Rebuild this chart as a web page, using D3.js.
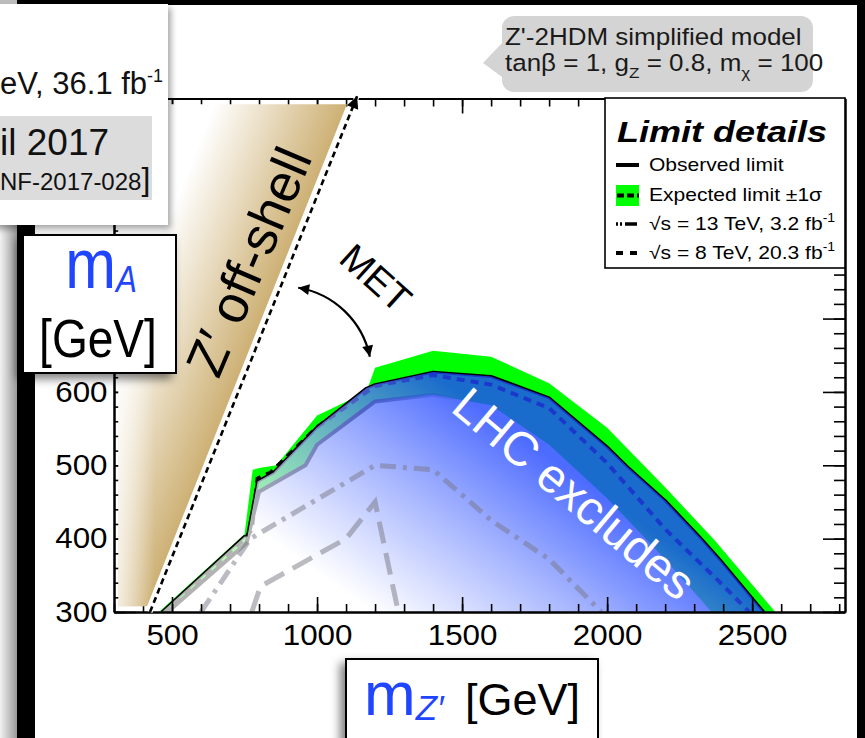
<!DOCTYPE html>
<html>
<head>
<meta charset="utf-8">
<title>Z'-2HDM limits</title>
<script src="https://cdn.jsdelivr.net/npm/d3@7/dist/d3.min.js"></script>
<style>
  html, body { margin: 0; padding: 0; background: #fff; }
  svg { display: block; font-family: "Liberation Sans", Arial, Helvetica, sans-serif; }
</style>
</head>
<body>
<svg id="chart" width="865" height="738"></svg>
<script>
// ---- axis ticks ----
const xMajorTicks = [500, 1000, 1500, 2000, 2500];
const yMajorTicks = [300, 400, 500, 600, 700, 800, 900, 1000];
const yLabelledTicks = [300, 400, 500, 600];   // the rest sit under the title boxes
const xMinorTicks = d3.range(300, 2801, 100);
const yMinorTicks = d3.range(300, 1001, 20);

// ---- observed limit contour (m_Z', m_A) ----
const obsMZ = [465, 750, 760, 795, 850, 1000, 1170, 1200, 1400, 1600, 1800, 2000, 2070, 2200, 2320, 2390, 2540];
const obsMA = [300, 403, 403, 478, 490, 552, 605, 610, 627, 621, 592, 525, 498, 452, 402, 371, 300];

// ---- expected limit ----
const expMZ = [470, 752, 775, 795, 840, 1000, 1200, 1400, 1600, 1800, 2000, 2200, 2390, 2490];
const expMA = [300, 400, 412, 482, 490, 552, 608, 623, 610, 578, 503, 413, 340, 300];

// ---- expected +1 sigma edge ----
const up1MZ = [455, 750, 778, 810, 860, 1000, 1170, 1200, 1400, 1600, 1800, 2000, 2200, 2370, 2580];
const up1MA = [300, 406, 494, 497, 500, 568, 600, 633, 656, 648, 612, 551, 470, 398, 300];

// ---- expected -1 sigma edge ----
const dn1MZ = [485, 757, 800, 960, 1000, 1200, 1400, 1600, 1800, 2000, 2200, 2360];
const dn1MA = [300, 394, 464, 500, 528, 587, 596, 582, 528, 455, 372, 300];

// ---- earlier results ----
const run13MZ = [600, 770, 1200, 1400, 1600, 1800, 1980];   // 13 TeV, 3.2 fb-1
const run13MA = [300, 400, 500, 494, 425, 372, 300];
const run8MZ = [775, 805, 1100, 1200, 1280];                // 8 TeV, 20.3 fb-1
const run8MA = [300, 335, 400, 450, 300];

// ---- annotations (data coordinates) ----
const offShellMZ = [315, 414, 1103, 315];   // Z' off-shell wedge
const offShellMA = [308, 308, 992, 992];
const kinMZ = [424, 1138];                  // kinematic boundary
const kinMA = [300, 1003];
const metArcMZ = [935, 1182];
const metArcMA = [742, 648];

const W = 865, H = 738;
const BLUE = "#1f45ff";
const GREEN = "#00ff00";

const x = d3.scaleLinear().domain([300, 2820]).range([114, 845]);
const y = d3.scaleLinear().domain([300, 1000]).range([612, 98.5]);

const svg = d3.select("#chart");
const defs = svg.append("defs");

const pts = (mz, ma) => mz.map((v, i) => [v, ma[i]]);
const line = d3.line().x(d => x(d[0])).y(d => y(d[1]));
const area = d3.area().x(d => x(d[0])).y0(y(300)).y1(d => y(d[1]));

// ---------- gradients & filters ----------
function linGrad(id, p0, p1, stops) {
  const g = defs.append("linearGradient").attr("id", id)
    .attr("gradientUnits", "userSpaceOnUse")
    .attr("x1", p0[0]).attr("y1", p0[1]).attr("x2", p1[0]).attr("y2", p1[1]);
  stops.forEach(s => g.append("stop").attr("offset", s[0])
    .attr("stop-color", s[1]).attr("stop-opacity", s[2]));
}

// exclusion overlay: pale at low masses, deep blue towards the contour
linGrad("exclGrad", [x(1120), y(320)], [x(1580), y(575)],
  [[0, "#ffffff", 0.7], [1, "rgb(32,70,255)", 0.8]]);

// -1 sigma edge line, visible only at low m_Z'
linGrad("dnFade", [x(1150), 0], [x(1500), 0],
  [[0, "#000", 1], [1, "#000", 0]]);

// wedge colour across its width
const e1 = [x(offShellMZ[1]), y(offShellMA[1])], e2 = [x(offShellMZ[2]), y(offShellMA[2])];
const eLen = Math.hypot(e2[0] - e1[0], e2[1] - e1[1]);
const nrm = [-(e2[1] - e1[1]) / eLen, (e2[0] - e1[0]) / eLen];
const eMid = [(e1[0] + e2[0]) / 2, (e1[1] + e2[1]) / 2];
linGrad("tanGrad", [eMid[0] - 140 * nrm[0], eMid[1] - 140 * nrm[1]], eMid,
  [[0, "#ffffff", 1], [0.12, "#ffffff", 1], [1, "#cdb074", 1]]);
linGrad("tanFade", [x(300), 0], [x(440), 0],
  [[0, "#ffffff", 0.8], [1, "#ffffff", 0]]);

linGrad("sideShade", [0, 0], [17, 0],
  [[0, "#f2f2f2", 1], [1, "#9a9a9a", 1]]);

function shadow(id, dx, dy, sd, op) {
  const f = defs.append("filter").attr("id", id)
    .attr("x", "-30%").attr("y", "-30%").attr("width", "160%").attr("height", "160%");
  f.append("feDropShadow").attr("dx", dx).attr("dy", dy)
    .attr("stdDeviation", sd).attr("flood-color", "#000").attr("flood-opacity", op);
}
shadow("shTL", 3, 4, 3, 0.35);
shadow("shBox", -5, 5, 5, 0.5);

function arrowMarker(id, w, h) {
  defs.append("marker").attr("id", id)
    .attr("viewBox", "0 0 10 10").attr("refX", 10).attr("refY", 5)
    .attr("markerUnits", "userSpaceOnUse")
    .attr("markerWidth", w).attr("markerHeight", h)
    .attr("orient", "auto-start-reverse")
    .append("path").attr("d", "M0,0L10,5L0,10Z").attr("fill", "#000");
}
arrowMarker("kinHead", 14, 12);
arrowMarker("metHead", 13, 11);

defs.append("clipPath").attr("id", "plotClip")
  .append("rect").attr("x", x(300)).attr("y", y(1000))
  .attr("width", x(2820) - x(300)).attr("height", y(300) - y(1000));

// ---------- background ----------
svg.append("rect").attr("width", W).attr("height", H).attr("fill", "#fff");

// ---------- limit contours ----------
const plot = svg.append("g").attr("clip-path", "url(#plotClip)");

const bandPts = pts(up1MZ, up1MA).concat(pts(dn1MZ, dn1MA).reverse());
plot.append("path").attr("d", line(bandPts) + "Z").attr("fill", GREEN);

plot.append("path").attr("d", line(pts(dn1MZ, dn1MA)))
  .attr("fill", "none").attr("stroke", "url(#dnFade)").attr("stroke-width", 4)
  .attr("stroke-linejoin", "round");

plot.append("path").attr("d", line(pts(obsMZ, obsMA)))
  .attr("fill", "none").attr("stroke", "#000").attr("stroke-width", 3)
  .attr("stroke-linejoin", "round");

plot.append("path").attr("d", line(pts(expMZ, expMA)))
  .attr("fill", "none").attr("stroke", "#000").attr("stroke-width", 4)
  .attr("stroke-dasharray", "8,6");

plot.append("path").attr("d", area(pts(obsMZ, obsMA)))
  .attr("fill", "url(#exclGrad)");

plot.append("path").attr("d", line(pts(run13MZ, run13MA)))
  .attr("fill", "none").attr("stroke", "rgba(120,120,135,0.5)").attr("stroke-width", 5)
  .attr("stroke-dasharray", "16,7,4,7");

plot.append("path").attr("d", line(pts(run8MZ, run8MA)))
  .attr("fill", "none").attr("stroke", "rgba(120,120,130,0.5)").attr("stroke-width", 5)
  .attr("stroke-dasharray", "22,10");

// ---------- axes ----------
const axes = svg.append("g");
function drawAxis(gen, tx, ty, vals, size) {
  const a = gen.tickValues(vals).tickSize(size).tickSizeOuter(0).tickFormat("");
  const g = axes.append("g").attr("transform", `translate(${tx},${ty})`).call(a);
  g.selectAll(".tick line").attr("stroke", "#000").attr("stroke-width", 1.6);
  g.select(".domain").attr("stroke", "#000").attr("stroke-width", 2);
  return g;
}
drawAxis(d3.axisBottom(x), 0, y(300), xMajorTicks, -15);
drawAxis(d3.axisBottom(x), 0, y(300), xMinorTicks, -8);
drawAxis(d3.axisTop(x), 0, y(1000), xMajorTicks, -15);
drawAxis(d3.axisTop(x), 0, y(1000), xMinorTicks, -8);
drawAxis(d3.axisLeft(y), x(300), 0, yMajorTicks, -22);
drawAxis(d3.axisLeft(y), x(300), 0, yMinorTicks, -11);
drawAxis(d3.axisRight(y), x(2820), 0, yMajorTicks, -22);
drawAxis(d3.axisRight(y), x(2820), 0, yMinorTicks, -11);

// tick labels
function labelAxis(gen, tx, ty, vals, pad) {
  const a = gen.tickValues(vals).tickSize(0).tickSizeOuter(0).tickPadding(pad).tickFormat(d3.format("d"));
  const g = axes.append("g").attr("transform", `translate(${tx},${ty})`).call(a);
  g.select(".domain").remove();
  g.selectAll(".tick text").attr("font-size", 29).attr("fill", "#000")
    .attr("font-family", "Liberation Sans, Arial, sans-serif")
    .attr("transform", "scale(1.08,1)");
}
labelAxis(d3.axisBottom(x), 0, y(300), xMajorTicks, 12);
labelAxis(d3.axisLeft(y), x(300), 0, yLabelledTicks, 6);

// ---------- Z' off-shell wedge ----------
const wedge = line(pts(offShellMZ, offShellMA)) + "Z";
svg.append("path").attr("d", wedge).attr("fill", "url(#tanGrad)");
svg.append("path").attr("d", wedge).attr("fill", "url(#tanFade)");

// kinematic boundary with arrow
const kinPath = line(pts(kinMZ, kinMA));
svg.append("path").attr("d", kinPath).attr("stroke", "#fff").attr("stroke-width", 5).attr("fill", "none");
svg.append("path").attr("d", kinPath).attr("stroke", "#000").attr("stroke-width", 2.6)
  .attr("stroke-dasharray", "6,4").attr("fill", "none").attr("marker-end", "url(#kinHead)");

// ---------- annotation texts ----------
svg.append("text")
  .attr("transform", `translate(${x(823)},${y(768)}) rotate(-67)`)
  .attr("text-anchor", "middle").attr("font-size", 53).attr("fill", "#000")
  .text("Z\u2032 off-shell");

svg.append("text")
  .attr("transform", `translate(${x(1850)},${y(444)}) rotate(40)`)
  .attr("text-anchor", "middle").attr("font-size", 48).attr("fill", "#fff")
  .text("LHC excludes");

svg.append("text")
  .attr("transform", `translate(${x(1172)},${y(742)}) rotate(42)`)
  .attr("text-anchor", "middle").attr("font-size", 38).attr("fill", "#000")
  .text("MET");

const mA = [x(metArcMZ[0]), y(metArcMA[0])], mB = [x(metArcMZ[1]), y(metArcMA[1])];
svg.append("path").attr("d", `M${mA[0]},${mA[1]}A88,88 0 0 1 ${mB[0]},${mB[1]}`)
  .attr("fill", "none").attr("stroke", "#000").attr("stroke-width", 2.2)
  .attr("marker-start", "url(#metHead)").attr("marker-end", "url(#metHead)");

// ---------- legend ----------
const leg = svg.append("g");
leg.append("rect").attr("x", 605).attr("y", 98).attr("width", 240).attr("height", 170)
  .attr("fill", "#fff").attr("stroke", "#000").attr("stroke-width", 1.6);
leg.append("text").attr("transform", "translate(617,142) scale(1.2,1)")
  .attr("font-size", 30).attr("font-weight", "bold").attr("font-style", "italic")
  .text("Limit details");

const legRows = [
  { label: "Observed limit", sup: "" },
  { label: "Expected limit \u00b11\u03c3", sup: "" },
  { label: "\u221as = 13 TeV, 3.2 fb", sup: "-1" },
  { label: "\u221as = 8 TeV, 20.3 fb", sup: "-1" }
];
const rowY = [171, 201, 230, 259];
legRows.forEach((r, i) => {
  const t = leg.append("text").attr("transform", `translate(649,${rowY[i]}) scale(1.17,1)`)
    .attr("font-size", 18).attr("fill", "#000");
  t.append("tspan").text(r.label);
  if (r.sup) t.append("tspan").attr("font-size", 12).attr("dy", -8).text(r.sup);
});
const sx0 = 616, sx1 = 639;
leg.append("line").attr("x1", sx0).attr("x2", sx1).attr("y1", 165).attr("y2", 165)
  .attr("stroke", "#000").attr("stroke-width", 4);
leg.append("rect").attr("x", sx0).attr("y", 185).attr("width", sx1 - sx0).attr("height", 21).attr("fill", GREEN);
leg.append("line").attr("x1", sx0 + 1).attr("x2", sx1).attr("y1", 195.5).attr("y2", 195.5)
  .attr("stroke", "#000").attr("stroke-width", 4).attr("stroke-dasharray", "7,3");
leg.append("line").attr("x1", sx0).attr("x2", sx1).attr("y1", 224).attr("y2", 224)
  .attr("stroke", "#000").attr("stroke-width", 3.5).attr("stroke-dasharray", "2,2,2,3,12");
leg.append("line").attr("x1", sx0).attr("x2", sx1).attr("y1", 253).attr("y2", 253)
  .attr("stroke", "#000").attr("stroke-width", 4).attr("stroke-dasharray", "7,7");

// ---------- model callout ----------
const co = svg.append("g");
co.append("path")
  .attr("d", "M514,16H801A12,12 0 0 1 813,28V80A12,12 0 0 1 801,92H514A12,12 0 0 1 502,80V77L483,63L502,43V28A12,12 0 0 1 514,16Z")
  .attr("fill", "#d4d4d4");
const coText = co.append("g").attr("transform", "translate(505,0) scale(1.106,1)")
  .attr("font-size", 23.5).attr("fill", "#1a1a1a");
coText.append("text").attr("x", 0).attr("y", 45).text("Z'-2HDM simplified model");
const l2 = coText.append("text").attr("x", 0).attr("y", 71.5);
l2.append("tspan").text("tan\u03b2 = 1, g");
l2.append("tspan").attr("font-size", 15.5).attr("dy", 7).text("Z");
l2.append("tspan").attr("dy", -7).text(" = 0.8, m");
l2.append("tspan").attr("font-size", 15.5).attr("dy", 7).text("\u03c7");
l2.append("tspan").attr("dy", -7).text(" = 100");

// ---------- frame borders ----------
svg.append("rect").attr("x", 0).attr("y", 0).attr("width", 17).attr("height", H).attr("fill", "url(#sideShade)");
svg.append("rect").attr("x", 17).attr("y", 0).attr("width", 18).attr("height", H).attr("fill", "#000");
svg.append("rect").attr("x", 0).attr("y", 0).attr("width", 17).attr("height", 5).attr("fill", "#bdbdbd");
svg.append("rect").attr("x", 17).attr("y", 0).attr("width", W - 17).attr("height", 5).attr("fill", "#000");
svg.append("rect").attr("x", 857).attr("y", 0).attr("width", 8).attr("height", H).attr("fill", "#000");

// ---------- top-left info box ----------
const tl = svg.append("g");
tl.append("rect").attr("x", -10).attr("y", 4).attr("width", 178).attr("height", 221)
  .attr("fill", "#fff").attr("filter", "url(#shTL)");
tl.append("rect").attr("x", 0).attr("y", 116).attr("width", 152).attr("height", 84).attr("fill", "#dcdcdc");
const lumi = tl.append("text").attr("x", 0).attr("y", 94).attr("font-size", 31).attr("fill", "#111");
lumi.append("tspan").text("eV, 36.1 fb");
lumi.append("tspan").attr("font-size", 18).attr("dy", -12).text("-1");
tl.append("text").attr("x", 0).attr("y", 155).attr("font-size", 37).attr("fill", "#111").text("il 2017");
const ref = tl.append("text").attr("x", 0).attr("y", 190).attr("font-size", 24).attr("fill", "#111");
ref.append("tspan").text("NF-2017-028");
ref.append("tspan").attr("font-size", 32).text("]");

// ---------- axis title boxes ----------
const yb = svg.append("g");
yb.append("rect").attr("x", 23).attr("y", 235).attr("width", 153).attr("height", 138)
  .attr("fill", "#fff").attr("stroke", "#000").attr("stroke-width", 2).attr("filter", "url(#shBox)");
const yt1 = yb.append("text").attr("transform", "translate(101,288) scale(0.87,1)")
  .attr("text-anchor", "middle");
yt1.append("tspan").attr("font-size", 70).attr("fill", BLUE).text("m");
yt1.append("tspan").attr("font-size", 36).attr("font-style", "italic").attr("fill", BLUE).attr("dy", 4).text("A");
yb.append("text").attr("transform", "translate(98,357) scale(0.87,1)")
  .attr("text-anchor", "middle").attr("font-size", 53).attr("fill", "#000").text("[GeV]");

const xb = svg.append("g");
xb.append("rect").attr("x", 346).attr("y", 659).attr("width", 252).attr("height", 90)
  .attr("fill", "#fff").attr("stroke", "#000").attr("stroke-width", 2).attr("filter", "url(#shBox)");
const xt = xb.append("text").attr("y", 715);
xt.append("tspan").attr("x", 364).attr("font-size", 62).attr("fill", BLUE).text("m");
xt.append("tspan").attr("font-size", 35).attr("font-style", "italic").attr("fill", BLUE).attr("dy", 5).text("Z\u2032");
xt.append("tspan").attr("x", 465).attr("dy", -5).attr("font-size", 45).attr("fill", "#000").text("[GeV]");
</script>
</body>
</html>
